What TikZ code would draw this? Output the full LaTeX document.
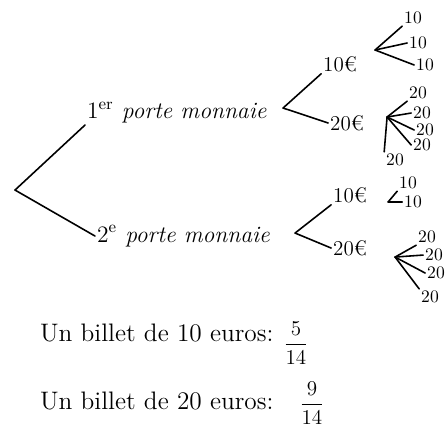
\documentclass[tikz,border=0pt]{standalone}
\usepackage{tikz}

\begin{document}
\begin{tikzpicture}[scale=0.02]
\tikzstyle{every node}+=[inner sep=1pt]
\tikzstyle{branch}=[black, line width=0.9pt, line cap=round]
\tikzstyle{purse}=[font=\fontsize{13.4pt}{16pt}\selectfont\itshape]
\tikzstyle{bill}=[font=\large]
\tikzstyle{leaf}=[font=\normalsize]
\tikzstyle{answer}=[font=\Large]
\useasboundingbox (0,0) rectangle (447,-427);
% first split: the two purses
\coordinate (root) at (15,-190);
\node [purse, anchor=south west] (purse1) at (85,-125) {{\upshape 1\textsuperscript{er}} porte monnaie};
\node [purse, anchor=west] (purse2) at (95,-236) {{\upshape 2\textsuperscript{e}} porte monnaie};
\draw [branch] (root) -- (purse1.south west);
\draw [branch] (root) -- (purse2.west);
% second split: the kind of note
\coordinate (fork1) at (283,-108);
\coordinate (fork2) at (295,-233);
\node [bill] (b11) at (340,-64) {10€};
\node [bill] (b12) at (347,-123) {20€};
\node [bill] (b21) at (350,-195) {10€};
\node [bill] (b22) at (350,-248) {20€};
\draw [branch] (fork1) -- (b11.south west);
\draw [branch] (fork1) -- (b12.west);
\draw [branch] (fork2) -- (b21.south west);
\draw [branch] (fork2) -- (b22.west);
% the notes of the first purse
\coordinate (fork11) at (375,-50);
\node [leaf] (l111) at (413,-18) {10};
\node [leaf] (l112) at (418,-43) {10};
\node [leaf] (l113) at (425,-65) {10};
\draw [branch] (fork11) -- (l111.south west);
\draw [branch] (fork11) -- (l112.west);
\draw [branch] (fork11) -- (l113.west);
\coordinate (fork12) at (387,-117);
\node [leaf] (l121) at (418,-93) {20};
\node [leaf] (l122) at (422,-113) {20};
\node [leaf] (l123) at (425,-130) {20};
\node [leaf] (l124) at (422,-145) {20};
\node [leaf] (l125) at (395,-160) {20};
\draw [branch] (fork12) -- (l121.south west);
\draw [branch] (fork12) -- (l122.west);
\draw [branch] (fork12) -- (l123.west);
\draw [branch] (fork12) -- (l124.west);
\draw [branch] (fork12) -- (l125.north west);
% the notes of the second purse
\coordinate (fork21) at (388,-202);
\node [leaf] (l211) at (408,-183) {10};
\node [leaf] (l212) at (413,-202) {10};
\draw [branch] (fork21) -- (l211.south west);
\draw [branch] (fork21) -- (l212.west);
\coordinate (fork22) at (395,-257);
\node [leaf] (l221) at (427,-237) {20};
\node [leaf] (l222) at (434,-255) {20};
\node [leaf] (l223) at (436,-273) {20};
\node [leaf] (l224) at (430,-297) {20};
\draw [branch] (fork22) -- (l221.south west);
\draw [branch] (fork22) -- (l222.west);
\draw [branch] (fork22) -- (l223.west);
\draw [branch] (fork22) -- (l224.north west);
% probabilities
\node [answer, anchor=west] (p10) at (38,-333) {Un billet de 10 euros:};
\node [bill] (f10) at (296,-343) {$\displaystyle\frac{5}{14}$};
\node [answer, anchor=west] (p20) at (38,-401) {Un billet de 20 euros:};
\node [bill] (f20) at (312,-403) {$\displaystyle\frac{9}{14}$};
\end{tikzpicture}
\end{document}
